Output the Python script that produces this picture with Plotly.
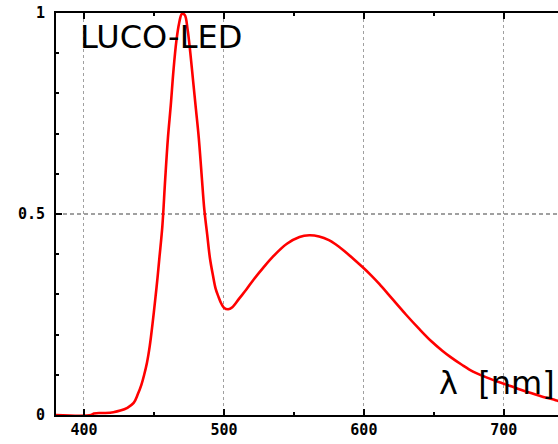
import plotly.graph_objects as go

wavelength_nm = [380, 405, 407, 415, 421, 426, 431, 435.5, 438.5, 441, 443, 445, 447, 449,
                 451, 452.5, 454, 456, 458, 460, 462, 464, 466, 468, 470, 472, 474, 476,
                 478, 480, 482, 484, 486, 488, 490, 492, 494, 496, 498, 500, 503, 506,
                 511, 516, 521, 528, 535, 545, 554, 561, 568, 575, 580, 586, 592, 599,
                 605, 611, 620, 630, 639, 648, 656, 662, 670, 678, 688, 698, 708, 717,
                 727, 737, 740]
intensity = [0.0, 0.0, 0.004, 0.005, 0.007, 0.011, 0.018, 0.03, 0.052, 0.075, 0.1, 0.13,
             0.172, 0.228, 0.29, 0.34, 0.395, 0.47, 0.585, 0.69, 0.77, 0.86, 0.93, 0.975,
             0.998, 0.995, 0.96, 0.9, 0.83, 0.76, 0.69, 0.6, 0.51, 0.45, 0.39, 0.35, 0.315,
             0.295, 0.278, 0.267, 0.263, 0.268, 0.29, 0.312, 0.336, 0.366, 0.394, 0.426, 0.443,
             0.447, 0.444, 0.435, 0.424, 0.408, 0.39, 0.368, 0.348, 0.326, 0.29, 0.25,
             0.216, 0.184, 0.16, 0.144, 0.125, 0.108, 0.093, 0.08, 0.068, 0.057, 0.046,
             0.037, 0.034]

x_ticks = [400, 500, 600, 700]
y_ticks = [0, 0.5, 1]
y_tick_labels = ["0", "0.5", "1"]
title_text = "LUCO-LED"
axis_text = "λ  [nm]"

fig = go.Figure()
fig.add_trace(go.Scatter(x=wavelength_nm, y=intensity, mode="lines",
                         line=dict(color="#ff0000", width=2.6, shape="spline", smoothing=1.0),
                         hoverinfo="skip", showlegend=False))

tickfont = dict(family="DejaVu Sans Mono", size=15, color="black")
fig.update_layout(
    width=558, height=444,
    margin=dict(l=56, r=0, t=13, b=29),
    plot_bgcolor="white", paper_bgcolor="white",
    xaxis=dict(range=[380, 738.7], tickvals=x_ticks, ticktext=[f"<b>{v}</b>" for v in x_ticks],
               ticks="inside", ticklen=6, tickwidth=2, tickcolor="black",
               minor=dict(dtick=50, tick0=0, ticks="inside", ticklen=3, tickwidth=2,
                          tickcolor="black", showgrid=False),
               showline=True, linecolor="black", linewidth=2, mirror="ticks",
               showgrid=True, gridcolor="#a0a0a0", gridwidth=1, griddash="3px,3px",
               tickfont=tickfont, zeroline=False, fixedrange=True),
    yaxis=dict(range=[0, 1], tickvals=y_ticks, ticktext=[f"<b>{t}</b>" for t in y_tick_labels],
               ticks="inside", ticklen=6, tickwidth=2, tickcolor="black",
               minor=dict(dtick=0.1, tick0=0, ticks="inside", ticklen=3, tickwidth=2,
                          tickcolor="black", showgrid=False),
               showline=True, linecolor="black", linewidth=2, mirror=False,
               showgrid=True, gridcolor="#a0a0a0", gridwidth=2, griddash="4px,3px",
               tickfont=tickfont, ticklabelstandoff=6, zeroline=False, fixedrange=True),
    annotations=[
        dict(text=title_text, xref="paper", yref="paper", x=0.043, y=0.94,
             xanchor="left", yanchor="middle", showarrow=False,
             font=dict(family="DejaVu Sans", size=32, color="black")),
        dict(text=axis_text, xref="paper", yref="paper", x=0.998, y=0.08,
             xanchor="right", yanchor="middle", showarrow=False,
             font=dict(family="DejaVu Sans", size=32, color="black")),
    ],
)

fig.write_html("out.html")
